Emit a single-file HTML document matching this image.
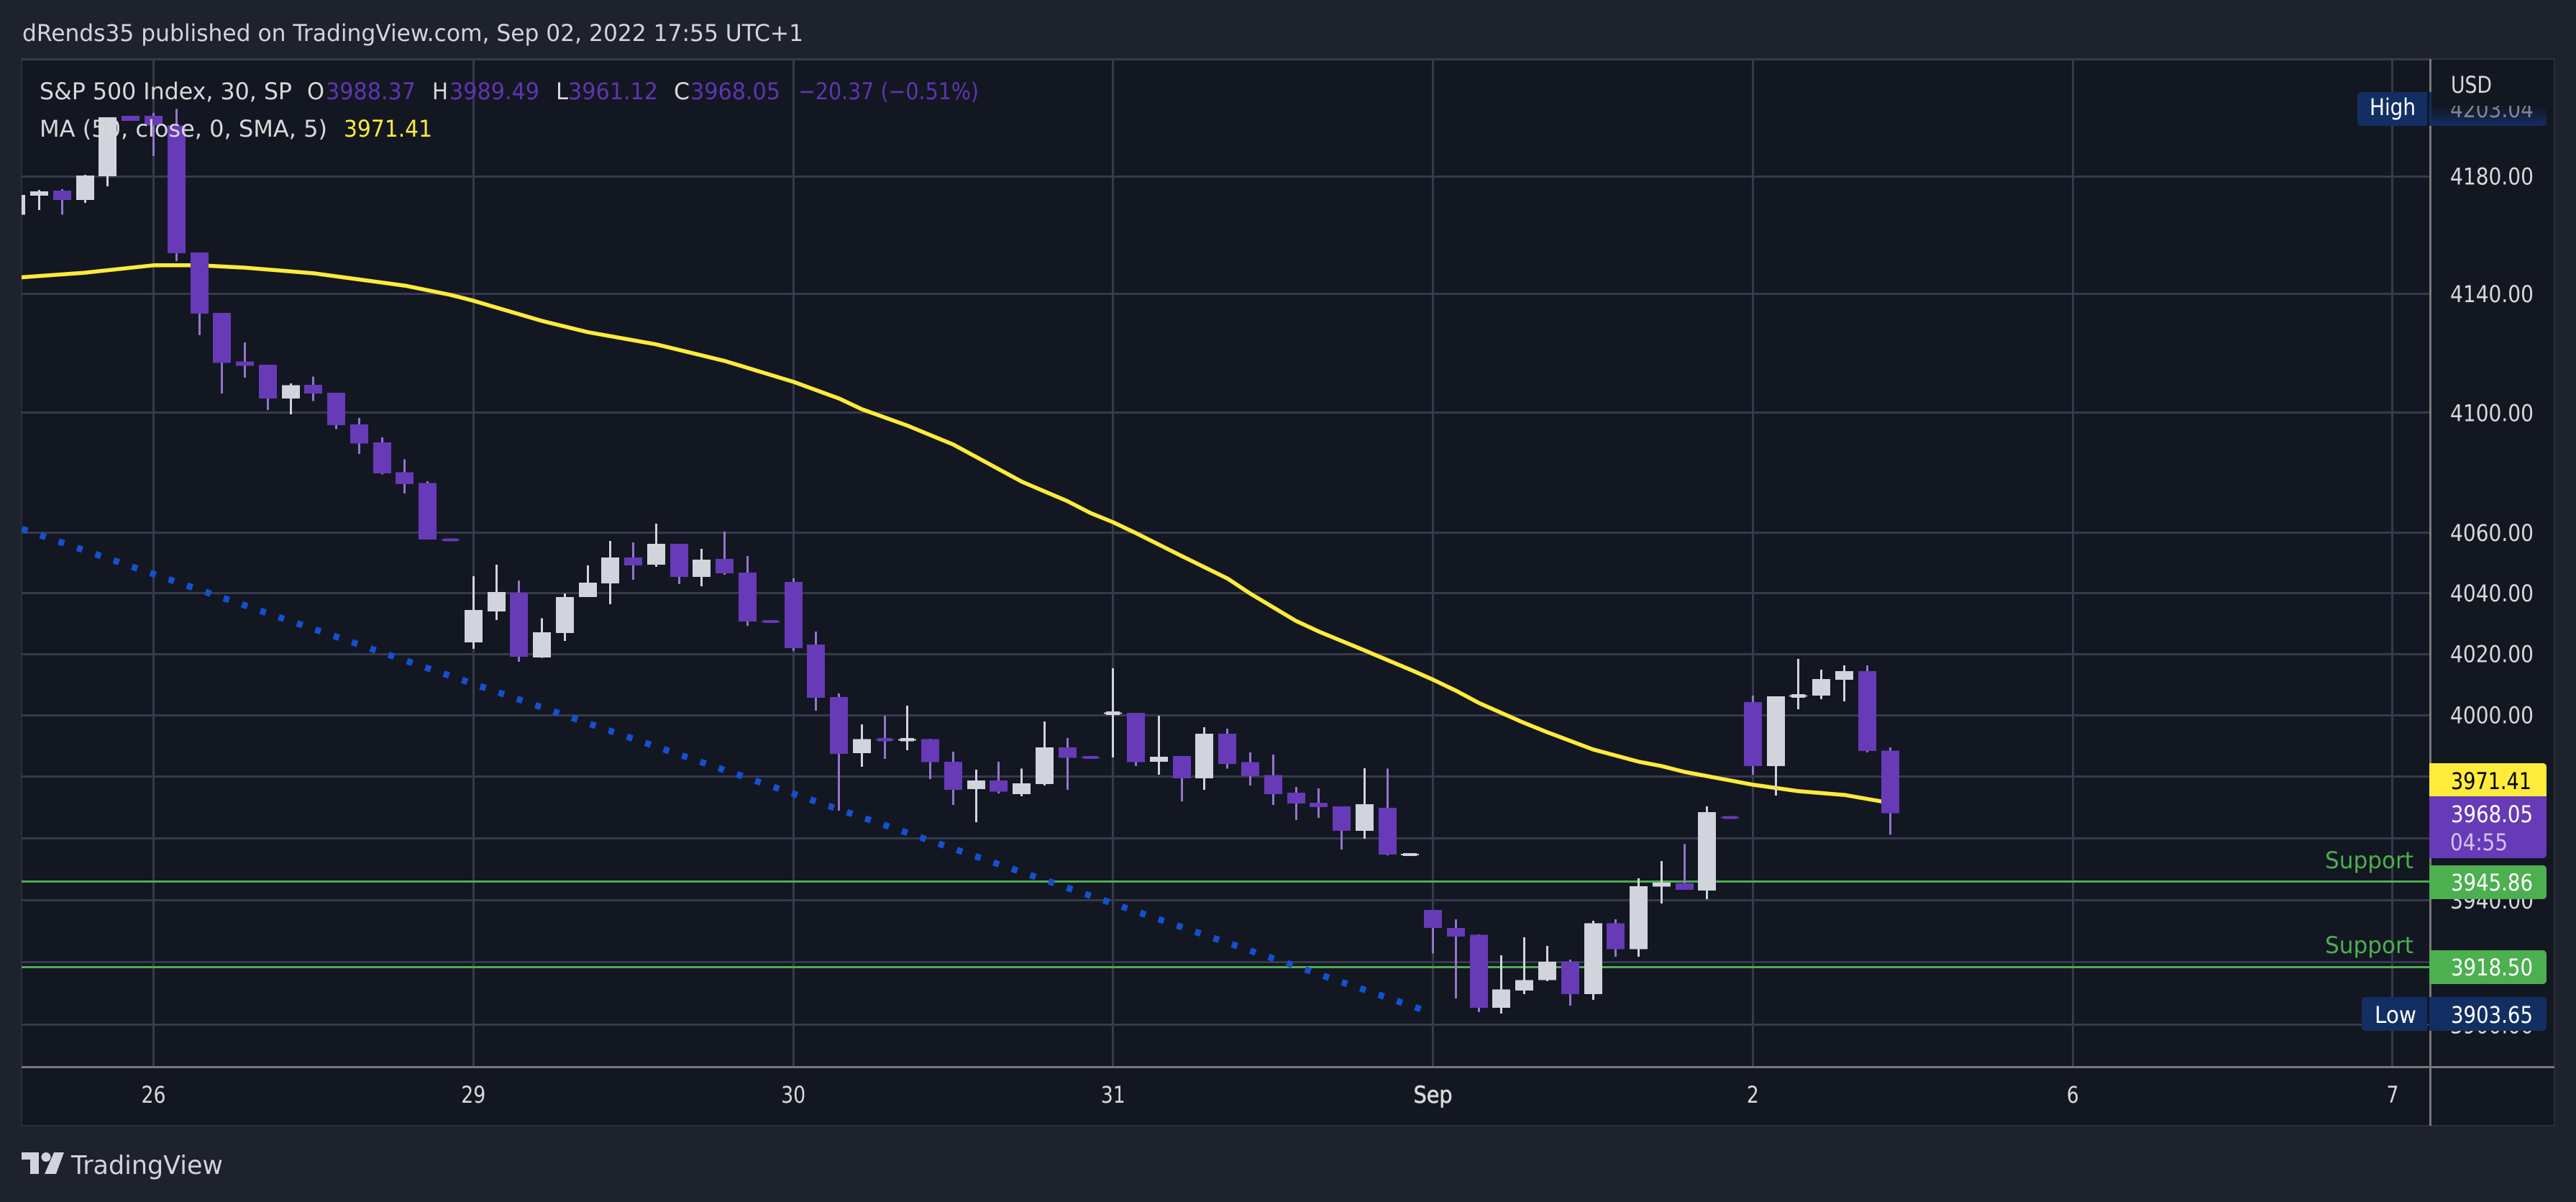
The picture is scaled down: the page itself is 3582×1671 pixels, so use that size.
<!DOCTYPE html>
<html lang="en">
<head>
<meta charset="utf-8">
<title>S&amp;P 500 Index, 30 min chart</title>
<style>
html,body{margin:0;padding:0;background:#1e222d;width:3582px;height:1671px;overflow:hidden}
svg{display:block}
text{font-family:"DejaVu Sans","Liberation Sans",sans-serif}
</style>
</head>
<body>
<svg id="chart" xmlns="http://www.w3.org/2000/svg" width="3582" height="1671" viewBox="0 0 3582 1671">
  <defs>
    <clipPath id="pane-clip"><rect x="30" y="84" width="3348" height="1398"/></clipPath>
    <linearGradient id="high-fade" x1="0" y1="0" x2="0" y2="1">
      <stop offset="0" stop-color="#131722" stop-opacity="1"/>
      <stop offset="1" stop-color="#132e63" stop-opacity="1"/>
    </linearGradient>
  </defs>
  <rect x="0" y="0" width="3582" height="1671" fill="#1e222d"/>
  <rect x="30" y="82" width="3522" height="1483" fill="#131722" stroke="#2a2e39" stroke-width="2"/>
  <text x="31" y="57" font-size="32" fill="#d1d4dc" textLength="1086" lengthAdjust="spacingAndGlyphs">dRends35 published on TradingView.com, Sep 02, 2022 17:55 UTC+1</text>

  <g id="grid"></g>
  <g id="marks" clip-path="url(#pane-clip)"></g>
  <rect x="30" y="81" width="3349" height="3" fill="#363a4c"/>
  <rect x="3378" y="82" width="3" height="1483" fill="#787878"/>
  <rect x="30" y="1482" width="3522" height="3" fill="#787878"/>
  <g id="axis-labels"></g>

  <g font-size="32">
    <text x="55" y="138" fill="#d8d8d8" textLength="351" lengthAdjust="spacingAndGlyphs">S&amp;P 500 Index, 30, SP</text>
    <text x="427" y="138" fill="#d8d8d8" textLength="24" lengthAdjust="spacingAndGlyphs">O</text>
    <text x="453" y="138" fill="#5e35b1" textLength="125" lengthAdjust="spacingAndGlyphs">3988.37</text>
    <text x="601" y="138" fill="#d8d8d8" textLength="22" lengthAdjust="spacingAndGlyphs">H</text>
    <text x="625" y="138" fill="#5e35b1" textLength="125" lengthAdjust="spacingAndGlyphs">3989.49</text>
    <text x="773" y="138" fill="#d8d8d8" textLength="17" lengthAdjust="spacingAndGlyphs">L</text>
    <text x="790" y="138" fill="#5e35b1" textLength="125" lengthAdjust="spacingAndGlyphs">3961.12</text>
    <text x="937" y="138" fill="#d8d8d8" textLength="22" lengthAdjust="spacingAndGlyphs">C</text>
    <text x="960" y="138" fill="#5e35b1" textLength="125" lengthAdjust="spacingAndGlyphs">3968.05</text>
    <text x="1110" y="138" fill="#5e35b1" textLength="251" lengthAdjust="spacingAndGlyphs">−20.37 (−0.51%)</text>
    <text x="55" y="190" fill="#d8d8d8" textLength="400" lengthAdjust="spacingAndGlyphs">MA (50, close, 0, SMA, 5)</text>
    <text x="478" y="190" fill="#ffeb3b" textLength="123" lengthAdjust="spacingAndGlyphs">3971.41</text>
  </g>

  <text x="3233" y="1207" font-size="32" fill="#4caf50" textLength="123" lengthAdjust="spacingAndGlyphs">Support</text>
  <text x="3233" y="1325" font-size="32" fill="#4caf50" textLength="123" lengthAdjust="spacingAndGlyphs">Support</text>

  <text x="3408" y="129" font-size="32" fill="#d8d8d8" textLength="57" lengthAdjust="spacingAndGlyphs">USD</text>

  <g>
    <path d="M3375 128H3283a5 5 0 0 0-5 5V170a5 5 0 0 0 5 5H3375Z" fill="#132e63"/>
    <rect x="3378" y="128" width="3" height="47" fill="#132e63"/>
    <text x="3295" y="160" font-size="32" fill="#ffffff" textLength="64" lengthAdjust="spacingAndGlyphs">High</text>
    <path d="M3381 148H3541V170a5 5 0 0 1-5 5H3381Z" fill="url(#high-fade)"/>
    <text x="3407" y="163" font-size="32" fill="#d8d8d8" fill-opacity="0.55" textLength="116" lengthAdjust="spacingAndGlyphs" clip-path="url(#high-text-clip)">4203.04</text>
    <clipPath id="high-text-clip"><rect x="3381" y="147" width="170" height="28"/></clipPath>
  </g>

  <g>
    <path d="M3378 1061H3536a5 5 0 0 1 5 5V1107H3378Z" fill="#ffeb3b"/>
    <text x="3408" y="1097" font-size="32" fill="#000000" textLength="112" lengthAdjust="spacingAndGlyphs">3971.41</text>
  </g>
  <g>
    <path d="M3378 1107H3541V1188a5 5 0 0 1-5 5H3378Z" fill="#673ab7"/>
    <text x="3408" y="1143" font-size="32" fill="#ffffff" textLength="114" lengthAdjust="spacingAndGlyphs">3968.05</text>
    <text x="3407" y="1182" font-size="32" fill="#d1c4e9" textLength="80" lengthAdjust="spacingAndGlyphs">04:55</text>
  </g>
  <g>
    <path d="M3378 1203H3536a5 5 0 0 1 5 5V1245a5 5 0 0 1-5 5H3378Z" fill="#4caf50"/>
    <text x="3408" y="1238" font-size="32" fill="#ffffff" textLength="114" lengthAdjust="spacingAndGlyphs">3945.86</text>
  </g>
  <g>
    <path d="M3378 1321H3536a5 5 0 0 1 5 5V1363a5 5 0 0 1-5 5H3378Z" fill="#4caf50"/>
    <text x="3408" y="1356" font-size="32" fill="#ffffff" textLength="114" lengthAdjust="spacingAndGlyphs">3918.50</text>
  </g>
  <g>
    <path d="M3375 1386H3289a5 5 0 0 0-5 5V1428a5 5 0 0 0 5 5H3375Z" fill="#132e63"/>
    <text x="3302" y="1422" font-size="32" fill="#ffffff" textLength="58" lengthAdjust="spacingAndGlyphs">Low</text>
    <path d="M3378 1386H3536a5 5 0 0 1 5 5V1428a5 5 0 0 1-5 5H3378Z" fill="#132e63"/>
    <text x="3408" y="1422" font-size="32" fill="#ffffff" textLength="114" lengthAdjust="spacingAndGlyphs">3903.65</text>
  </g>

  <g fill="#d1d4dc">
    <path d="M30 1602H54V1632H42V1612H30Z"/>
    <circle cx="64" cy="1608.5" r="6.5"/>
    <path d="M75 1602H89L78 1632H62Z"/>
    <text x="99" y="1632" font-size="36" textLength="211" lengthAdjust="spacingAndGlyphs">TradingView</text>
  </g>
</svg>

<script>
// Time axis: bars are numbered from the 26th session open; first visible bar is index -6.
const firstBar = -6;
const dayTickBars = [0, 14, 28, 42, 56, 70, 84, 98];
const dayTickLabels = ['26', '29', '30', '31', 'Sep', '2', '6', '7'];

// Price axis
const priceTicks = [4180, 4140, 4100, 4060, 4040, 4020, 4000, 3980, 3960, 3940, 3920, 3900];
const priceTickLabels = ['4180.00', '4140.00', '4100.00', '4060.00', '4040.00', '4020.00', '4000.00', '3980.00', '3960.00', '3940.00', '3920.00', '3900.00'];

// OHLC series
const opens = [4166.9,4173.4,4175.1,4171.9,4180,4200.7,4200.7,4197.3,4154.1,4133.6,4117.2,4116.2,4104.8,4109.4,4106.7,4096.1,4090.1,4080.1,4076.5,4057.8,
  4023.8,4034.0,4040.2,4018.9,4026.9,4038.7,4043.3,4051.8,4049.5,4056.4,4045.4,4051.4,4046.8,4030.8,
  4043.7,4023.1,4005.9,3987.6,3992.5,3991.4,3992.1,3984.8,3975.9,3978.7,3974.3,3977.5,3989.5,3986.3,
  4000.0,4000.7,3984.8,3986.7,3979.4,3993.9,3984.6,3980.4,3974.7,3971.5,3970.3,3962.4,3969.8,3954.6,
  3936.8,3931.1,3928.8,3905.5,3911.0,3914.3,3920.2,3909.9,3932.5,3924.2,3944.3,3945.4,3943.1,3966.8,
  4004.3,3983.4,4005.7,4006.4,4011.6,4014.4,3988.37];
const highs = [4173.6,4175.35,4175.6,4180.5,4200.2,4200.7,4201.7,4203.04,4154.1,4133.6,4123.7,4116.2,4109.9,4112.1,4106.7,4098.3,4091.8,4084.4,4077.2,4057.9,
  4045.6,4049.5,4044.2,4031.7,4039.9,4049.2,4057.3,4056.8,4063.0,4056.4,4054.7,4060.4,4052.3,4030.9,
  4044.9,4027.4,4007.1,3997.0,3999.8,4003.1,3992.3,3988.1,3982.2,3984.8,3982.5,3997.9,3992.5,3986.4,
  4015.3,4000.7,3999.8,3986.7,3996.0,3995.6,3987.8,3987.1,3976.6,3976.1,3970.3,3982.7,3982.5,3954.9,
  3936.8,3933.8,3929.0,3922.3,3928.1,3925.3,3920.9,3933.4,3933.8,3947.0,3952.6,3958.0,3970.3,3966.9,
  4006.4,4006.1,4018.4,4014.9,4016.3,4016.3,3989.49];
const lows = [4166.9,4168.5,4166.9,4170.95,4176.6,4199,4186.9,4151.1,4126.1,4106.5,4111.8,4100.9,4099.5,4104.0,4094.5,4086.3,4079.4,4073.1,4057.8,4057.5,
  4021.7,4031.2,4017.5,4018.7,4024.3,4038.7,4036.4,4044.5,4048.7,4043.0,4042.3,4046.1,4029.3,4030.5,
  4021.0,4001.4,3968.9,3983.1,3985.7,3988.5,3979.2,3970.8,3965.2,3974.5,3973.6,3977.1,3975.7,3986.0,
  3986.2,3983.4,3980.6,3971.9,3975.7,3982.5,3977.1,3970.8,3965.9,3966.6,3956.3,3959.8,3954.5,3954.5,
  3922.8,3908.5,3904.1,3903.65,3909.9,3914.0,3906.2,3908.0,3921.8,3921.8,3938.9,3943.3,3940.3,3966.5,
  3980.6,3973.8,4001.9,4005.2,4004.5,3987.8,3961.12];
const closes = [4173.6,4174.9,4171.9,4180.25,4200.2,4199,4197.3,4153.8,4133.4,4116.7,4115.8,4104.8,4109.2,4106.5,4095.9,4089.7,4079.8,4076.2,4057.8,4057.6,
  4034.5,4040.4,4019.1,4027.1,4038.7,4043.5,4051.8,4049.2,4056.4,4045.4,4051.1,4046.6,4030.7,4030.6,
  4021.9,4005.7,3987.4,3992.1,3991.4,3992.5,3984.6,3975.7,3978.7,3975.0,3977.8,3989.5,3986.0,3986.1,
  4001.2,3984.6,3986.4,3979.4,3993.9,3984.1,3980.1,3974.3,3971.2,3970.1,3962.4,3971.0,3954.7,3954.8,
  3931.1,3928.3,3905.5,3911.3,3914.3,3920.2,3909.9,3932.5,3924.2,3944.5,3945.6,3943.3,3968.4,3966.6,
  3983.4,4006.1,4006.8,4011.8,4014.4,3988.3,3968.05];

// Moving average, read at the bars where the line visibly bends
const maBars = [-6,-3,0,2,4,7,11,13,14,17,19,22,25,28,30,31,33,35,38,40,41,42,43,45,47,48,50,51,53,55,56,57,58,60,61,63,65,66,67,70,72,74,76];
const maValues = [4145.5,4147.2,4149.7,4149.7,4148.9,4147.0,4142.8,4139.7,4137.7,4130.9,4127.1,4123.0,4117.4,4110.4,4104.8,4101.2,4095.7,4089.4,4077.0,4070.5,4066.6,4063.5,4059.9,4052.3,4044.9,4039.9,4030.9,4027.4,4021.2,4014.9,4011.6,4008.0,4004.0,3997.4,3994.4,3988.8,3984.8,3983.4,3981.5,3977.3,3975.2,3974.0,3971.41];

// Dotted trend line anchors
const trendBars = [-5.757, 55.6];
const trendPrices = [4061.3, 3904.7];

// Horizontal support levels
const supportLevels = [3945.86, 3918.50];

// Axis functions
function xScale(bar) { return 213.5 + 31.77 * bar; }
function yScale(price) { return 245 + 17018 * Math.log(4180 / price); }

const NS = 'http://www.w3.org/2000/svg';
const gridG = document.getElementById('grid');
const marksG = document.getElementById('marks');
const axisG = document.getElementById('axis-labels');
const GRID = '#363a4c', UP = '#d1d4dc', DOWN = '#673ab7', UP_WICK = '#d1d4dc', DOWN_WICK = '#9575cd';

function mk(tag, attrs, parent) {
  const el = document.createElementNS(NS, tag);
  for (const k in attrs) el.setAttribute(k, attrs[k]);
  parent.appendChild(el);
  return el;
}

// Gridlines and price labels
priceTicks.forEach(function (p, i) {
  const y = yScale(p);
  const line = mk('rect', { x: 30, y: Math.round(y - 1.5), width: 3348, height: 3, fill: GRID, 'shape-rendering': 'crispEdges' }, gridG);
  
  
  const label = mk('text', { x: 3407, y: (y + 11.5).toFixed(1), 'font-size': 32, fill: '#d8d8d8', textLength: 116, lengthAdjust: 'spacingAndGlyphs' }, axisG);
  label.textContent = priceTickLabels[i];
  
  
});

// Vertical gridlines and time labels
dayTickBars.forEach(function (b, i) {
  const x = xScale(b);
  const line = mk('rect', { x: Math.round(x - 1.5), y: 82, width: 3, height: 1400, fill: GRID, 'shape-rendering': 'crispEdges' }, gridG);
  
  
  const isMonth = dayTickLabels[i] === 'Sep';
  const w = isMonth ? 54 : (dayTickLabels[i].length === 1 ? 17 : 34);
  const label = mk('text', { x: (x - w / 2).toFixed(1), y: 1533, 'font-size': 32, fill: '#d8d8d8', stroke: isMonth ? '#d8d8d8' : 'none', 'stroke-width': isMonth ? 0.7 : 0, textLength: w, lengthAdjust: 'spacingAndGlyphs' }, axisG);
  label.textContent = dayTickLabels[i];
  
  
});

// Support lines
supportLevels.forEach(function (p) {
  const line = mk('rect', { x: 30, y: Math.round(yScale(p) - 1.5), width: 3348, height: 3, fill: '#4caf50', 'shape-rendering': 'crispEdges' }, marksG);
  
  
});

// Moving average
const maPoints = maBars.map(function (b, i) { return xScale(b).toFixed(1) + ',' + yScale(maValues[i]).toFixed(1); }).join(' ');
const maLine = mk('polyline', { points: maPoints, fill: 'none', stroke: '#ffeb3b', 'stroke-width': 5.5, 'stroke-linejoin': 'round' }, marksG);



// Trend line
const trendLine = mk('line', { x1: xScale(trendBars[0]), y1: yScale(trendPrices[0]), x2: xScale(trendBars[1]), y2: yScale(trendPrices[1]), stroke: '#1550d0', 'stroke-width': 9, 'stroke-dasharray': '8 18.95' }, marksG);



// Candles
opens.forEach(function (o, i) {
  const c = closes[i];
  const cx = xScale(firstBar + i);
  const isUp = c >= o;
  const yTop = yScale(Math.max(o, c));
  const yBot = yScale(Math.min(o, c));
  const bodyH = yBot - yTop;
  const yHigh = yScale(highs[i]);
  const yLow = yScale(lows[i]);
  const bodyFill = isUp ? UP : DOWN;
  const left = Math.round(cx - 12.5);

  if (bodyH < 1.5) {
    const mid = (yTop + yBot) / 2;
    const dash = mk('rect', { x: left, y: (mid - 1).toFixed(1), width: 25, height: 2, fill: bodyFill, 'shape-rendering': 'crispEdges' }, marksG);
    
    
    const flat = mk('rect', { x: left + 3, y: (mid - 2).toFixed(1), width: 19, height: 4, fill: bodyFill, 'shape-rendering': 'crispEdges' }, marksG);
    
    
    return;
  }

  const wick = mk('rect', { x: left + 11, y: yHigh.toFixed(1), width: 3, height: (yLow - yHigh).toFixed(1), fill: isUp ? UP_WICK : DOWN_WICK, 'shape-rendering': 'crispEdges' }, marksG);
  
  

  if (bodyH < 5.5) {
    const tick = mk('rect', { x: left, y: ((yTop + yBot) / 2 - 1).toFixed(1), width: 25, height: 2, fill: bodyFill, 'shape-rendering': 'crispEdges' }, marksG);
    
    
    const small = mk('rect', { x: left + 3, y: yTop.toFixed(1), width: 19, height: bodyH.toFixed(1), fill: bodyFill, 'shape-rendering': 'crispEdges' }, marksG);
    
    
    return;
  }

  const body = mk('rect', { x: left, y: yTop.toFixed(1), width: 25, height: bodyH.toFixed(1), fill: bodyFill, 'shape-rendering': 'crispEdges' }, marksG);
  
  
});
</script>
</body>
</html>
